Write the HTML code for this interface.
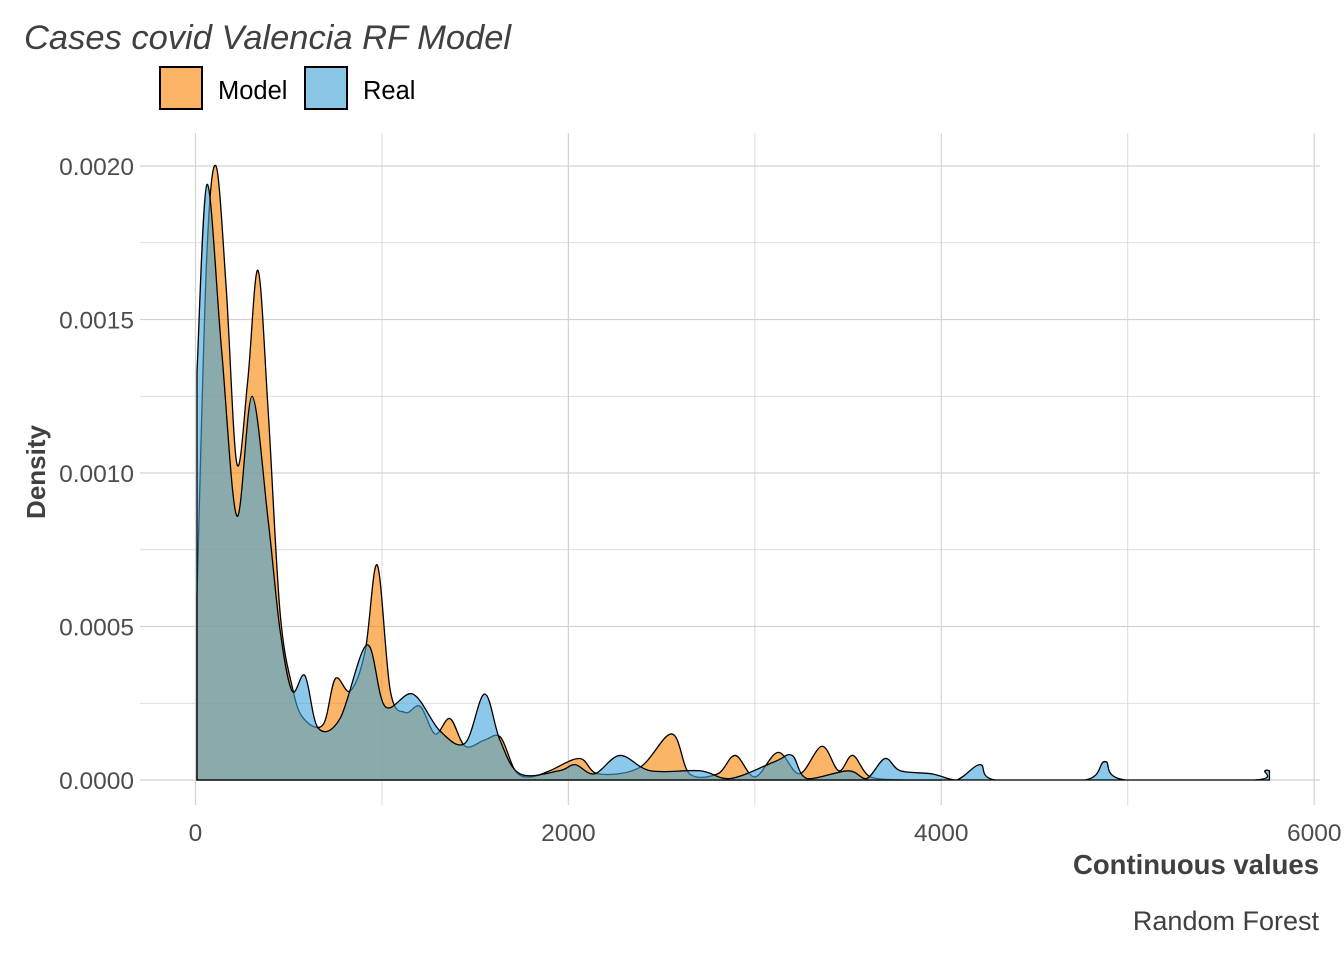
<!DOCTYPE html>
<html><head><meta charset="utf-8"><style>
body{margin:0;background:#fff;font-family:"Liberation Sans",Arial,sans-serif}
</style></head><body>
<svg id="chart" width="1344" height="960" xmlns="http://www.w3.org/2000/svg">
<text x="24" y="49" font-size="34.5" font-style="italic" fill="#404040">Cases covid Valencia RF Model</text>
<g>
<rect x="160" y="67" width="42" height="42" fill="#FDB366" stroke="#000" stroke-width="2"/>
<text x="218" y="99" font-size="25.5" fill="#000">Model</text>
<rect x="305" y="67" width="42" height="42" fill="#8AC6E6" stroke="#000" stroke-width="2"/>
<text x="363" y="99" font-size="25.5" fill="#000">Real</text>
</g>
<g id="grid"></g>
<g id="marks"></g>
<g id="axes"></g>
<text x="0" y="0" transform="translate(45,472) rotate(-90)" text-anchor="middle" font-size="26" font-weight="bold" fill="#404040">Density</text>
<text x="1319" y="874" text-anchor="end" font-size="27.5" font-weight="bold" fill="#404040">Continuous values</text>
<text x="1319" y="930" text-anchor="end" font-size="27" fill="#404040">Random Forest</text>
</svg>
<script>
const xTicks=[0,2000,4000,6000];
const yTicks=[0,0.0005,0.0010,0.0015,0.0020];
const yTickLabels=["0.0000","0.0005","0.0010","0.0015","0.0020"];
const modelX=[8,60,110,165,222,280,335,390,453,520,580,684,750,830,910,975,1045,1124,1205,1285,1365,1446,1550,1635,1715,1795,1900,2060,2160,2380,2555,2650,2800,2895,3000,3125,3240,3360,3450,3525,3620,3800,4000];
const modelY=[0.0006,0.0017,0.0020,0.0016,0.00103,0.0013,0.00166,0.0012,0.00055,0.0003,0.0002,0.00018,0.00033,0.00029,0.00042,0.0007,0.00029,0.00022,0.00024,0.00015,0.0002,0.00011,0.00013,0.00014,0.00003,0.00001,0.00003,0.00007,0.00002,0.00004,0.00015,0.00002,0.00002,0.00008,0.00001,0.00009,0.00002,0.00011,0.00003,0.00008,0.00001,0,0];
const realX=[8,62,140,222,303,389,453,518,587,657,775,920,1016,1166,1311,1446,1550,1633,1740,1950,2036,2140,2277,2440,2706,2870,3107,3200,3280,3500,3600,3698,3780,3950,4080,4208,4290,4770,4878,4990,5680,5736,5760];
const realY=[0.00133,0.00194,0.0014,0.00086,0.00125,0.00085,0.00049,0.00029,0.00034,0.00017,0.0002,0.00044,0.00024,0.00028,0.00016,0.00012,0.00028,0.00013,0.00002,0.00003,0.00005,0.00002,0.00008,0.00003,0.00003,0.000005,0.00006,0.00008,0.000005,0.00003,0.000005,0.00007,0.00003,0.00002,0,0.00005,0,0,0.00006,0,0,0.00003,0.00003];
const X=v=>195.5+v*0.18645, Y=v=>780-v*307000;
const NS="http://www.w3.org/2000/svg";
function mk(t,a,p){const e=document.createElementNS(NS,t);for(const k in a)e.setAttribute(k,a[k]);p.appendChild(e);return e;}
const grid=document.getElementById('grid'),axes=document.getElementById('axes'),marks=document.getElementById('marks');
for(let v=0;v<=6000;v+=1000){const l=mk('line',{x1:X(v),x2:X(v),y1:133,y2:805,stroke:'#d3d3d3','stroke-width':v%2000?0.8:1.2},grid);

}
for(let v=0;v<=0.00201;v+=0.00025){const l=mk('line',{x1:140,x2:1320,y1:Y(v),y2:Y(v),stroke:'#d3d3d3','stroke-width':Math.round(v*1e5)%50?0.8:1.2},grid);

}
xTicks.forEach(v=>{const t=mk('text',{x:X(v),y:841,'text-anchor':'middle','font-size':24.5,fill:'#4d4d4d'},axes);t.textContent=v;

});
yTicks.forEach((v,i)=>{const t=mk('text',{x:134,y:Y(v)+9,'text-anchor':'end','font-size':24.5,fill:'#4d4d4d'},axes);t.textContent=yTickLabels[i];

});
function path(xs,ys){const p=xs.map((x,i)=>[X(x),Y(ys[i])]);let d=`M${p[0][0]},${Y(0)}L${p[0][0]},${p[0][1]}`;
for(let i=0;i<p.length-1;i++){const p0=p[Math.max(0,i-1)],p1=p[i],p2=p[i+1],p3=p[Math.min(p.length-1,i+2)];
let c1y=Math.min(780,p1[1]+(p2[1]-p0[1])/6),c2y=Math.min(780,p2[1]-(p3[1]-p1[1])/6);
d+=`C${p1[0]+(p2[0]-p0[0])/6},${c1y} ${p2[0]-(p3[0]-p1[0])/6},${c2y} ${p2[0]},${p2[1]}`;}
return d+`L${p[p.length-1][0]},${Y(0)}Z`;}
const m=mk('path',{d:path(modelX,modelY),fill:'#F98400','fill-opacity':0.6,stroke:'#000','stroke-width':1.3},marks);


const r=mk('path',{d:path(realX,realY),fill:'#3FA4DB','fill-opacity':0.6,stroke:'#000','stroke-width':1.3},marks);


</script>
</body></html>
